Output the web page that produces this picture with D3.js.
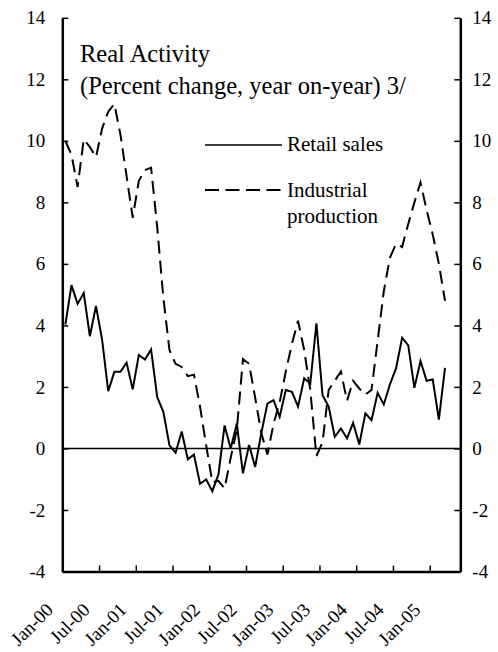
<!DOCTYPE html>
<html lang="en">
<head>
    <meta charset="UTF-8">
    <title>real-activity</title>
    <style>
        body {
            margin: 0;
            background: #fff;
        }
        text {
            font-family: "Liberation Serif", "Times New Roman", serif;
            fill: #000;
        }
    </style>
    <script src="https://d3js.org/d3.v7.min.js"></script>
</head>
<body>

<script>

    // monthly, year on year, starting Jan-00 (last value Mar-05)
    let retailSales = [
        4.03, 5.31, 4.70, 5.05, 3.65, 4.63, 3.54, 1.86, 2.49, 2.49, 2.79, 1.92,
        3.04, 2.89, 3.22, 1.67, 1.19, 0.10, -0.14, 0.55, -0.35, -0.20, -1.15, -1.01,
        -1.39, -0.85, 0.75, 0.00, 0.81, -0.81, 0.11, -0.60, 0.50, 1.46, 1.57, 1.03,
        1.90, 1.84, 1.36, 2.28, 2.11, 4.07, 1.73, 1.36, 0.38, 0.65, 0.33, 0.83,
        0.13, 1.14, 0.92, 1.81, 1.43, 2.08, 2.60, 3.60, 3.35, 1.97, 2.84, 2.20,
        2.24, 0.94, 2.62
    ];
    let industrialProduction = [
        10.0, 9.55, 8.5, 10.05, 9.8, 9.47, 10.4, 10.95, 11.2, 10.2, 8.85, 7.5,
        8.7, 9.05, 9.13, 7.2, 4.9, 3.2, 2.75, 2.65, 2.35, 2.4, 1.35, 0.1,
        -1.1, -1.05, -1.3, -0.3, 0.6, 2.9, 2.75, 1.65, 0.5, -0.2, 0.8, 1.5,
        2.5, 3.4, 4.15, 3.2, 1.9, -0.25, 0.2, 1.9, 2.2, 2.5, 1.55, 2.2,
        1.95, 1.75, 1.9, 3.5, 5.1, 6.2, 6.65, 6.55, 7.3, 8.0, 8.65, 7.75,
        6.95, 6.0, 4.8
    ];
    let nCategories = 65;   // Jan-00 .. May-05
    let xTickLabels = ["Jan-00", "Jul-00", "Jan-01", "Jul-01", "Jan-02", "Jul-02",
        "Jan-03", "Jul-03", "Jan-04", "Jul-04", "Jan-05"];
    let yTicks = [-4, -2, 0, 2, 4, 6, 8, 10, 12, 14];

    let width = 498;
    let height = 652;
    let axisWidth = 2.5;

    let svg = d3.select("body").append("svg")
        .attr("width", width)
        .attr("height", height);

    let x = d3.scaleLinear().domain([0, nCategories]).range([62.3, 460.3]);
    let y = d3.scaleLinear().domain([-4, 14]).range([571.5, 17.8]);

    // plain hyphen for negatives, like the original
    let fmt = function (d) { return String(d); };

    // zero line
    svg.append("line")
        .attr("x1", x(0)).attr("x2", x(nCategories))
        .attr("y1", y(0)).attr("y2", y(0))
        .attr("stroke", "#000")
        .attr("stroke-width", 1.6);

    // y axes, ticks pointing inward
    let leftAxis = svg.append("g")
        .attr("transform", "translate(" + x(0) + ",0)")
        .call(d3.axisLeft(y).tickValues(yTicks).tickFormat(fmt)
            .tickSizeInner(-6).tickSizeOuter(0).tickPadding(17));
    let rightAxis = svg.append("g")
        .attr("transform", "translate(" + x(nCategories) + ",0)")
        .call(d3.axisRight(y).tickValues(yTicks).tickFormat(fmt)
            .tickSizeInner(-6).tickSizeOuter(0).tickPadding(12));

    // x axis, ticks every six months
    let xTicks = xTickLabels.map(function (d, i) { return i * 6; });
    let bottomAxis = svg.append("g")
        .attr("transform", "translate(0," + y(-4) + ")")
        .call(d3.axisBottom(x).tickValues(xTicks.slice(1)).tickSizeInner(-6).tickSizeOuter(0).tickFormat(""));

    [leftAxis, rightAxis, bottomAxis].forEach(function (g) {
        g.select(".domain").attr("stroke", "#000").attr("stroke-width", axisWidth);
        g.selectAll(".tick line").attr("stroke", "#000").attr("stroke-width", 1.5);
        g.selectAll(".tick text")
            .attr("font-size", "19px")
            .attr("font-family", "Liberation Serif, Times New Roman, serif")
            .attr("fill", "#000");
    });

    svg.append("g")
        .selectAll("text")
        .data(xTickLabels)
        .enter()
        .append("text")
        .attr("transform", function (d, i) {
            return "translate(" + (x(xTicks[i]) - 8) + ",611) rotate(-45)";
        })
        .attr("text-anchor", "end")
        .attr("font-size", "19px")
        .text(function (d) { return d; });

    // series
    let line = d3.line()
        .x(function (d, i) { return x(i + 0.5); })
        .y(function (d) { return y(d); });

    svg.append("path")
        .datum(industrialProduction)
        .attr("d", line)
        .attr("fill", "none")
        .attr("stroke", "#000")
        .attr("stroke-width", 2)
        .attr("stroke-dasharray", "13,7");

    svg.append("path")
        .datum(retailSales)
        .attr("d", line)
        .attr("fill", "none")
        .attr("stroke", "#000")
        .attr("stroke-width", 2)
        .attr("stroke-linejoin", "miter");

    // title
    svg.append("text")
        .attr("x", 80).attr("y", 61.7)
        .attr("font-size", "24.5px")
        .text("Real Activity");
    svg.append("text")
        .attr("x", 80).attr("y", 93.5)
        .attr("font-size", "24.5px")
        .text("(Percent change, year on-year) 3/");

    // legend
    let legend = svg.append("g");
    legend.append("line")
        .attr("x1", 205).attr("x2", 282)
        .attr("y1", 145).attr("y2", 145)
        .attr("stroke", "#000").attr("stroke-width", 1.5);
    legend.append("text")
        .attr("x", 287).attr("y", 150.7)
        .attr("font-size", "21px")
        .text("Retail sales");
    legend.append("line")
        .attr("x1", 205).attr("x2", 282)
        .attr("y1", 190).attr("y2", 190)
        .attr("stroke", "#000").attr("stroke-width", 2)
        .attr("stroke-dasharray", "14,6.5");
    legend.append("text")
        .attr("x", 287).attr("y", 196.7)
        .attr("font-size", "21px")
        .text("Industrial");
    legend.append("text")
        .attr("x", 287).attr("y", 222.7)
        .attr("font-size", "21px")
        .text("production");

</script>

</body>
</html>
